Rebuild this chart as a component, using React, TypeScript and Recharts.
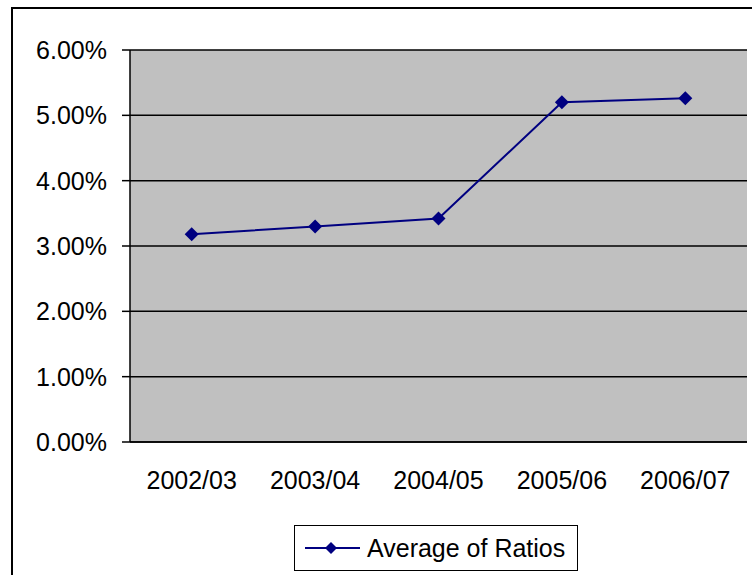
import { LineChart, Line, XAxis, YAxis, CartesianGrid, Legend } from "recharts";

const years = ["2002/03", "2003/04", "2004/05", "2005/06", "2006/07"];
const averageRatios = [3.18, 3.3, 3.42, 5.2, 5.26];
const yTicks = [0, 1, 2, 3, 4, 5, 6];
const boundaryTicks = [0, 1, 2, 3, 4, 5];

const data = years.map((year, i) => ({ year, ratio: averageRatios[i] }));

const NAVY = "#000080";
const FONT = "'Liberation Sans', Arial, sans-serif";

function Diamond(props: any) {
  const { cx, cy } = props;
  if (cx == null || cy == null) return null;
  const r = 7;
  return (
    <path
      d={`M${cx},${cy - r} L${cx + r},${cy} L${cx},${cy + r} L${cx - r},${cy} Z`}
      fill={NAVY}
      stroke="none"
    />
  );
}

function YTick(props: any) {
  const { x, y, payload } = props;
  return (
    <text x={x - 13} y={y + 9} textAnchor="end" fontSize={25} fontFamily={FONT} fill="#000">
      {Number(payload.value).toFixed(2) + "%"}
    </text>
  );
}

function XTick(props: any) {
  const { x, y, payload } = props;
  return (
    <text x={x} y={y + 39} textAnchor="middle" fontSize={25} fontFamily={FONT} fill="#000">
      {payload.value}
    </text>
  );
}

function LegendBox() {
  return (
    <div
      style={{
        border: "1.5px solid #000",
        width: 284,
        height: 46,
        boxSizing: "border-box",
        display: "flex",
        alignItems: "center",
        background: "#fff",
        fontFamily: FONT,
        fontSize: 25,
        color: "#000",
      }}
    >
      <svg width={62} height={20} style={{ marginLeft: 10, flexShrink: 0 }}>
        <line x1={0} y1={10} x2={55} y2={10} stroke={NAVY} strokeWidth={2} />
        <path d="M26,4 L32,10 L26,16 L20,10 Z" fill={NAVY} />
      </svg>
      <span style={{ whiteSpace: "nowrap" }}>Average of Ratios</span>
    </div>
  );
}

export default function App() {
  return (
    <div
      style={{
        position: "absolute",
        left: 0,
        top: 0,
        width: 752,
        height: 575,
        overflow: "hidden",
        background: "#fff",
      }}
    >
      <div
        style={{
          position: "absolute",
          left: 11,
          top: 7,
          width: 800,
          height: 620,
          border: "2px solid #000",
        }}
      />
      <div style={{ position: "absolute", left: 0, top: 0 }}>
        <LineChart
          width={752}
          height={575}
          data={data}
          margin={{ top: 50, right: 5, left: 0, bottom: 37 }}
        >
          <CartesianGrid
            vertical={false}
            fill="#C0C0C0"
            fillOpacity={1}
            stroke="#000"
            strokeWidth={1.5}
          />
          <XAxis
            xAxisId="bounds"
            type="number"
            domain={[0, 5]}
            ticks={boundaryTicks}
            tick={false}
            tickSize={9}
            tickLine={{ stroke: "#000", strokeWidth: 1.5 }}
            axisLine={false}
            height={0}
          />
          <XAxis
            dataKey="year"
            scale="band"
            tickLine={false}
            axisLine={{ stroke: "#000", strokeWidth: 1.5 }}
            height={50}
            tick={<XTick />}
            interval={0}
          />
          <XAxis
            xAxisId="top"
            dataKey="year"
            scale="band"
            orientation="top"
            height={0}
            tick={false}
            tickLine={false}
            axisLine={{ stroke: "#808080", strokeWidth: 2 }}
          />
          <YAxis
            domain={[0, 6]}
            ticks={yTicks}
            width={130}
            tickSize={8}
            tickLine={{ stroke: "#000", strokeWidth: 1.5 }}
            axisLine={{ stroke: "#000", strokeWidth: 1.5 }}
            tick={<YTick />}
          />
          <YAxis
            yAxisId="right"
            orientation="right"
            domain={[0, 6]}
            width={0}
            tick={false}
            tickLine={false}
            axisLine={{ stroke: "#808080", strokeWidth: 2 }}
          />
          <Line
            dataKey="ratio"
            name="Average of Ratios"
            type="linear"
            stroke={NAVY}
            strokeWidth={2}
            dot={<Diamond />}
            activeDot={false}
            isAnimationActive={false}
          />
          <Legend
            verticalAlign="bottom"
            content={() => <LegendBox />}
            wrapperStyle={{ position: "absolute", left: 294, top: 525, width: 284, bottom: "auto" }}
          />
        </LineChart>
      </div>
    </div>
  );
}
